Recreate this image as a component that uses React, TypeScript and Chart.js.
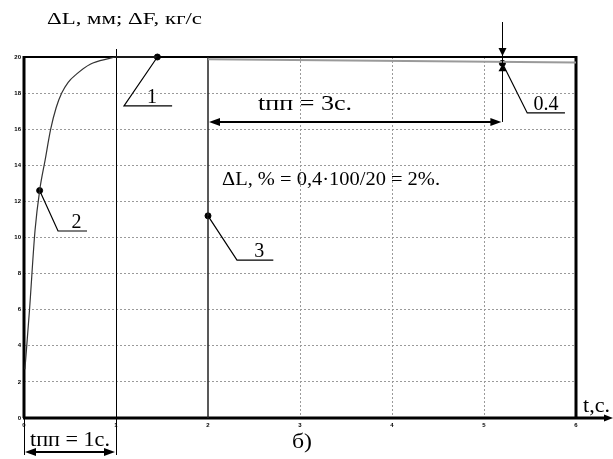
import React, { useEffect, useRef } from "react";
import { Chart, registerables } from "chart.js";

Chart.register(...registerables);

// ---- data ----
const xTickValues = [0, 1, 2, 3, 4, 5, 6];
const yTickValues = [0, 2, 4, 6, 8, 10, 12, 14, 16, 18, 20];

// curve 2 : transient of ΔL
const curveX = [0.01, 0.06, 0.12, 0.17, 0.23, 0.29, 0.35, 0.41, 0.48, 0.57, 0.72, 0.93, 1.0, 1.45];
const curveY = [2.7, 6.0, 10.4, 12.6, 14.3, 16.0, 17.2, 18.0, 18.6, 19.05, 19.6, 19.92, 20, 20];

// steady force line
const steadyX = [2.0, 6.0];
const steadyY = [19.88, 19.7];

// line 3 (vertical at t = 2)
const line3X = [2, 2];
const line3Y = [0, 20];

// marked points 1,2,3,0.4
const markX = [1.45, 0.17, 2, 5.2];
const markY = [20, 12.6, 11.2, 19.65];
const markLabels = ["1", "2", "3", "0.4"];

const SERIF = '"Liberation Serif", "Times New Roman", serif';

const toPts = (xs: number[], ys: number[]) => xs.map((v, i) => ({ x: v, y: ys[i] }));

function arrowHead(ctx: CanvasRenderingContext2D, tx: number, ty: number, dx: number, dy: number, len: number, half: number) {
  const bx = tx - dx * len;
  const by = ty - dy * len;
  ctx.beginPath();
  ctx.moveTo(tx, ty);
  ctx.lineTo(bx - dy * half, by + dx * half);
  ctx.lineTo(bx + dy * half, by - dx * half);
  ctx.closePath();
  ctx.fill();
}

function seg(ctx: CanvasRenderingContext2D, x1: number, y1: number, x2: number, y2: number) {
  ctx.beginPath();
  ctx.moveTo(x1, y1);
  ctx.lineTo(x2, y2);
  ctx.stroke();
}

// text fitted horizontally to a given width
function wideText(ctx: CanvasRenderingContext2D, text: string, x: number, y: number, size: number, width: number) {
  ctx.save();
  ctx.font = `${size}px ${SERIF}`;
  ctx.textAlign = "left";
  ctx.textBaseline = "alphabetic";
  const w = ctx.measureText(text).width;
  ctx.translate(x, y);
  ctx.scale(width / w, 1);
  ctx.fillText(text, 0, 0);
  ctx.restore();
}

const framePlugin = {
  id: "frame",
  beforeDatasetsDraw(chart: any) {
    const { ctx, chartArea: a, scales } = chart;
    const x = scales.x;
    ctx.save();
    ctx.strokeStyle = "#000";
    ctx.fillStyle = "#000";
    ctx.lineWidth = 1;
    const x1 = Math.round(x.getPixelForValue(1)) + 0.5;
    seg(ctx, x1, a.top - 8, x1, a.bottom + 37);
    seg(ctx, a.left + 0.5, a.bottom, a.left + 0.5, a.bottom + 37);
    ctx.lineWidth = 2;
    seg(ctx, a.left, a.top, a.right, a.top);
    ctx.lineWidth = 3;
    seg(ctx, a.left, a.top - 1, a.left, a.bottom);
    seg(ctx, a.right, a.top - 1, a.right, a.bottom);
    seg(ctx, a.left - 1, a.bottom, a.right + 30, a.bottom);
    arrowHead(ctx, a.right + 37, a.bottom, 1, 0, 9, 3.5);
    ctx.restore();
  },
  afterDraw(chart: any) {
    const { ctx, chartArea: a, scales } = chart;
    const x = scales.x;
    const y = scales.y;
    const px = (v: number) => x.getPixelForValue(v);
    const py = (v: number) => y.getPixelForValue(v);
    ctx.save();
    ctx.strokeStyle = "#000";
    ctx.fillStyle = "#000";

    // leaders for labels
    const elbows = [
      [1.087, 17.29, 1.61],
      [0.37, 10.36, 0.685],
      [2.315, 8.75, 2.71],
      [5.47, 16.9, 5.88],
    ];
    ctx.lineWidth = 1.2;
    ctx.font = `20px ${SERIF}`;
    ctx.textAlign = "center";
    ctx.textBaseline = "alphabetic";
    markLabels.forEach((lab, i) => {
      const [ex, ey, endx] = elbows[i];
      const sx = px(markX[i]);
      const sy = py(markY[i]);
      const exp = px(ex);
      const eyp = py(ey);
      const enp = px(endx);
      ctx.beginPath();
      ctx.moveTo(sx, sy);
      ctx.lineTo(exp, eyp);
      ctx.lineTo(enp, eyp);
      ctx.stroke();
      ctx.fillText(lab, (exp + enp) / 2 + (i === 3 ? 0 : 4), eyp - 3);
    });

    // 0.4 deviation marker at t = 5.2
    const xv = Math.round(px(5.2)) + 0.5;
    ctx.lineWidth = 1;
    seg(ctx, xv, 22, xv, py(16.4));
    arrowHead(ctx, xv, a.top - 1, 0, 1, 8, 4);
    arrowHead(ctx, xv, py(19.6), 0, -1, 7, 4);

    // tпп = 3с arrow
    ctx.lineWidth = 2;
    const ay = py(16.4);
    seg(ctx, px(2) + 6, ay, px(5.2) - 6, ay);
    arrowHead(ctx, px(2) + 1, ay, -1, 0, 11, 4);
    arrowHead(ctx, px(5.2) - 1, ay, 1, 0, 11, 4);

    // tпп = 1с arrow (below axis)
    const by = a.bottom + 34;
    seg(ctx, px(0) + 6, by, px(1) - 6, by);
    arrowHead(ctx, px(0) + 1, by, -1, 0, 11, 4);
    arrowHead(ctx, px(1) - 1, by, 1, 0, 11, 4);

    // texts
    wideText(ctx, "ΔL, мм; ΔF, кг/с", 47, 24, 17, 155);
    wideText(ctx, "tпп = 3с.", 258, 110, 21, 94);
    wideText(ctx, "ΔL, % = 0,4·100/20 = 2%.", 222, 185, 18, 218);
    wideText(ctx, "tпп = 1с.", 30, 446, 21, 80);
    wideText(ctx, "б)", 292, 448, 21, 20);
    wideText(ctx, "t,c.", 583, 412, 21, 27);
    ctx.restore();
  },
};

export default function App() {
  const ref = useRef<HTMLCanvasElement | null>(null);
  useEffect(() => {
    if (!ref.current) return;
    const chart = new Chart(ref.current, {
      type: "scatter",
      data: {
        datasets: [
          {
            data: toPts(curveX, curveY),
            showLine: true,
            borderColor: "#333",
            borderWidth: 1.2,
            pointRadius: 0,
            cubicInterpolationMode: "monotone",
            clip: false,
          } as any,
          {
            data: toPts(steadyX, steadyY),
            showLine: true,
            borderColor: "#9a9a9a",
            borderWidth: 2,
            pointRadius: 0,
            clip: false,
          },
          {
            data: toPts(line3X, line3Y),
            showLine: true,
            borderColor: "#222",
            borderWidth: 1.5,
            pointRadius: 0,
            clip: false,
          },
          {
            data: toPts(markX, markY),
            showLine: false,
            pointRadius: 3,
            backgroundColor: "#000",
            borderColor: "#000",
            clip: false,
          },
        ],
      },
      options: {
        animation: false,
        responsive: false,
        layout: { padding: { top: 57, right: 37, left: 0, bottom: 0 } },
        plugins: { legend: { display: false }, tooltip: { enabled: false }, title: { display: false } },
        scales: {
          x: {
            type: "linear",
            min: 0,
            max: 6,
            afterFit: (s: any) => {
              s.height = 41;
            },
            afterBuildTicks: (s: any) => {
              s.ticks = xTickValues.map((v) => ({ value: v }));
            },
            ticks: {
              color: "#000",
              font: { size: 6, weight: "bold", family: "Liberation Sans" },
              padding: 4,
              maxRotation: 0,
            },
            grid: {
              drawTicks: false,
              lineWidth: 1,
              color: (c: any) => ([3, 4, 5].includes(c.tick?.value) ? "#9a9a9a" : "rgba(0,0,0,0)"),
            },
            border: { display: false, dash: [2, 2] },
          },
          y: {
            min: 0,
            max: 20,
            afterFit: (s: any) => {
              s.width = 24;
            },
            afterBuildTicks: (s: any) => {
              s.ticks = yTickValues.map((v) => ({ value: v }));
            },
            ticks: {
              color: "#000",
              font: { size: 6, weight: "bold", family: "Liberation Sans" },
              padding: 3,
            },
            grid: {
              drawTicks: false,
              lineWidth: 1,
              color: (c: any) => (c.tick && c.tick.value > 0 && c.tick.value < 20 ? "#9a9a9a" : "rgba(0,0,0,0)"),
            },
            border: { display: false, dash: [2, 2] },
          },
        },
      },
      plugins: [framePlugin],
    });
    return () => chart.destroy();
  }, []);
  return (
    <div style={{ position: "absolute", left: 0, top: 0, width: 613, height: 459, background: "#fff" }}>
      <canvas ref={ref} width={613} height={459} style={{ width: 613, height: 459 }} />
    </div>
  );
}
